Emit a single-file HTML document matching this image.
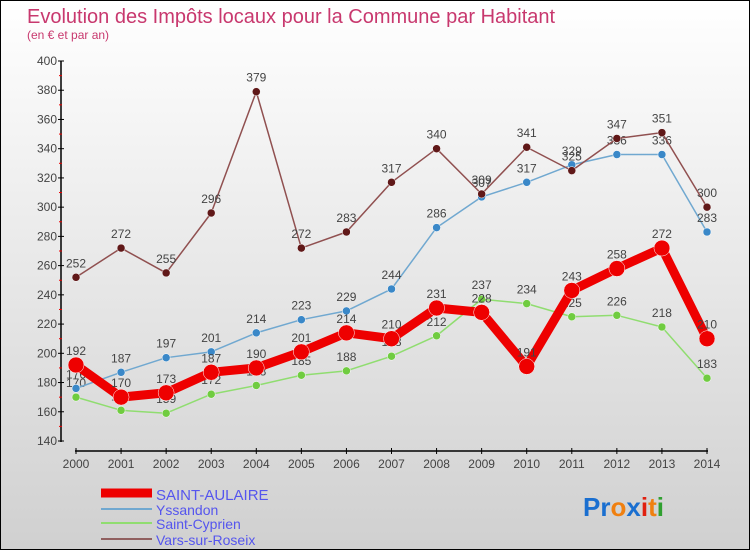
<!DOCTYPE html>
<html><head><meta charset="utf-8"><style>
body{margin:0;}
#wrap{position:relative;width:748px;height:548px;border:1px solid #000;background:linear-gradient(#ffffff,#d0d0d0);font-family:"Liberation Sans",sans-serif;overflow:hidden}
</style></head><body>
<div id="wrap">
<svg id="chart" width="748" height="548">
<text x="26" y="22" font-size="20" fill="#c8386e">Evolution des Impôts locaux pour la Commune par Habitant</text>
<text x="26" y="38" font-size="12" fill="#c8386e">(en € et par an)</text>
<g id="axes"></g><g id="series"></g>
<g>
<line x1="100" y1="492" x2="151" y2="492" stroke="#e00" stroke-width="9"/>
<text x="155" y="499" font-size="15" fill="#5555ee">SAINT-AULAIRE</text>
<line x1="100" y1="508" x2="151" y2="508" stroke="#70a8d0" stroke-width="2"/>
<text x="155" y="514" font-size="14" fill="#5555ee">Yssandon</text>
<line x1="100" y1="522" x2="151" y2="522" stroke="#90dd70" stroke-width="2"/>
<text x="155" y="528" font-size="14" fill="#5555ee">Saint-Cyprien</text>
<line x1="100" y1="538" x2="151" y2="538" stroke="#906060" stroke-width="2"/>
<text x="155" y="544" font-size="14" fill="#5555ee">Vars-sur-Roseix</text>
</g>
<text x="582" y="515" font-size="26" font-weight="bold"><tspan fill="#1a6fd0">Pr</tspan><tspan fill="#f08010">o</tspan><tspan fill="#1a6fd0">x</tspan><tspan fill="#e02010">i</tspan><tspan fill="#f08010">t</tspan><tspan fill="#30a030">i</tspan></text>
</svg>
</div>
<script>
const years=[2000,2001,2002,2003,2004,2005,2006,2007,2008,2009,2010,2011,2012,2013,2014];
const yTicks=[140,160,180,200,220,240,260,280,300,320,340,360,380,400];
const saintAulaire=[192,170,173,187,190,201,214,210,231,228,191,243,258,272,210];
const yssandon=[176,187,197,201,214,223,229,244,286,307,317,329,336,336,283];
const saintCyprien=[170,161,159,172,178,185,188,198,212,237,234,225,226,218,183];
const varsSurRoseix=[252,272,255,296,379,272,283,317,340,309,341,325,347,351,300];
const NS="http://www.w3.org/2000/svg";
function xs(i){return 75+(706-75)*i/(years.length-1);}
function ys(v){return 440-(v-140)*(380/260);}
function mk(tag,attrs,parent){const e=document.createElementNS(NS,tag);for(const k in attrs)e.setAttribute(k,attrs[k]);parent.appendChild(e);return e;}
const axes=document.getElementById('axes');
let a=mk('line',{x1:60,y1:60,x2:60,y2:441,stroke:'#000','stroke-width':1.5},axes);


a=mk('line',{x1:74,y1:450,x2:707,y2:450,stroke:'#000','stroke-width':1.5},axes);


yTicks.forEach((t,i)=>{const y=ys(t);
 mk('line',{x1:57,y1:y,x2:63,y2:y,stroke:'#000'},axes);
 if(i<yTicks.length-1){mk('line',{x1:58,y1:ys(t+10),x2:61,y2:ys(t+10),stroke:'#e00'},axes);}
 const tx=mk('text',{x:56,y:y+4,'font-size':12,fill:'#444','text-anchor':'end'},axes);tx.textContent=t;
 
 
});
years.forEach((yr,i)=>{const x=xs(i);
 mk('line',{x1:x,y1:447,x2:x,y2:453,stroke:'#000'},axes);
 const tx=mk('text',{x:x,y:467,'font-size':12,fill:'#444','text-anchor':'middle'},axes);tx.textContent=yr;
 
 
});
const sg=document.getElementById('series');
function draw(data,name,color,dotColor,w,r){
 const g=mk('g',{},sg);
 
 
 const pl=mk('polyline',{points:data.map((v,i)=>xs(i)+','+ys(v)).join(' '),fill:'none',stroke:color,'stroke-width':w,'stroke-linejoin':'round'},g);
 
 
 data.forEach((v,i)=>{
  const c=mk('circle',{cx:xs(i),cy:ys(v),r:r,fill:dotColor,stroke:'#fff','stroke-width':0.5},g);
  
  
  const t=mk('text',{x:xs(i),y:ys(v)-10,'font-size':12,fill:'#444','text-anchor':'middle'},g);t.textContent=v;
  
  
 });
}
draw(saintCyprien,'saint-cyprien','#90dd70','#70cc40',1.5,4);
draw(yssandon,'yssandon','#70a8d0','#3a88c8',1.5,4);
draw(varsSurRoseix,'vars-sur-roseix','#905050','#601818',1.5,4);
draw(saintAulaire,'saint-aulaire','#ee0000','#ee0000',9,8);
</script>
</body></html>
